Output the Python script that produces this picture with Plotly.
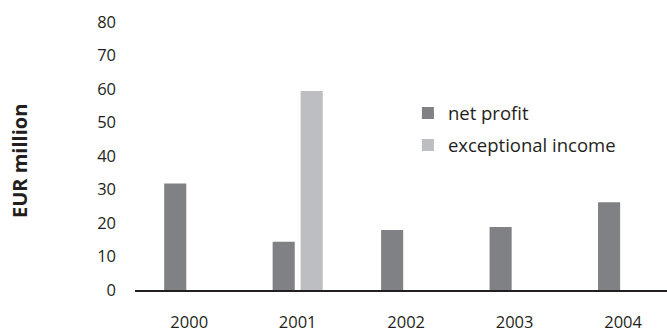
import plotly.graph_objects as go

years = ["2000", "2001", "2002", "2003", "2004"]
net_profit = [31.8, 14.4, 17.9, 18.8, 26.2]
exceptional_income = [None, 59.4, None, None, None]
y_ticks = [0, 10, 20, 30, 40, 50, 60, 70, 80]

FONT = "Open Sans"
fig = go.Figure()
fig.add_trace(go.Bar(x=years, y=net_profit, name="net profit",
                     marker=dict(color="#808184", line=dict(width=0)),
                     legendgroup="a"))
fig.add_trace(go.Bar(x=years, y=exceptional_income, name="exceptional income",
                     marker=dict(color="#bcbec1", line=dict(width=0)),
                     legendgroup="b"))

fig.update_layout(
    width=667, height=333,
    margin=dict(l=135, r=0, t=22, b=39),
    paper_bgcolor="white", plot_bgcolor="white",
    barmode="group", bargap=0.484, bargroupgap=0.21,
    font=dict(family=FONT, size=16.5, color="#231f20"),
    showlegend=True,
    legend=dict(x=0.513, y=0.73, xanchor="left", yanchor="top",
                bgcolor="rgba(0,0,0,0)", tracegroupgap=5,
                font=dict(size=18.5, color="#231f20")),
    xaxis=dict(type="category", range=[-0.5, 4.405], showline=True,
               linecolor="#231f20", linewidth=2, ticks="", showgrid=False,
               ticklabelstandoff=16),
    yaxis=dict(range=[0, 80], tickvals=y_ticks, showline=False,
               showgrid=False, zeroline=False, ticks="",
               ticklabelstandoff=18),
    annotations=[dict(text="<b>EUR million</b>", textangle=-90,
                      xref="paper", yref="paper", x=0, y=0.5,
                      xanchor="center", yanchor="middle",
                      xshift=-116, yshift=-5, showarrow=False,
                      font=dict(size=20, color="#231f20"))],
)
fig.write_html("out.html")
